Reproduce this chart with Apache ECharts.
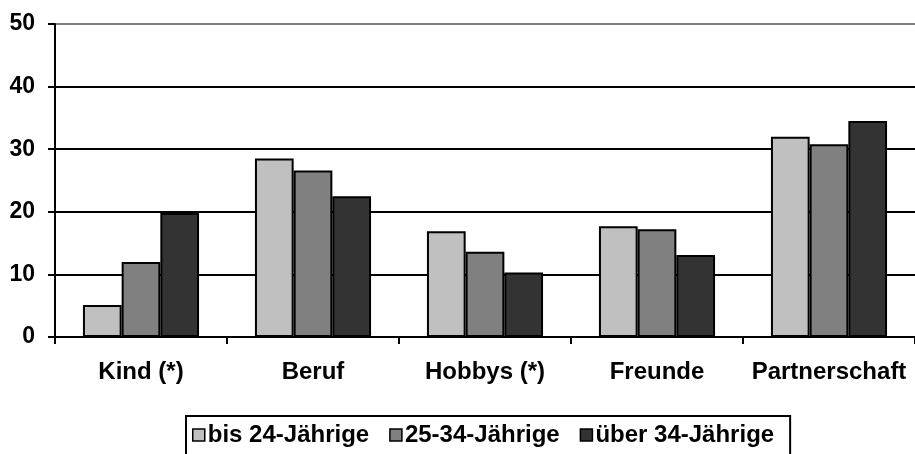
<!DOCTYPE html>
<html>
<head>
<meta charset="utf-8">
<script src="https://cdn.jsdelivr.net/npm/echarts@6/dist/echarts.min.js"></script>
<style>
  html, body { margin: 0; padding: 0; background: #fff; }
  #chart { width: 915px; height: 454px; }
</style>
</head>
<body>
<div id="chart"></div>
<script>
// Kategorien und Werte
var categories = ['Kind (*)', 'Beruf', 'Hobbys (*)', 'Freunde', 'Partnerschaft'];
var seriesNames = ['bis 24-Jährige', '25-34-Jährige', 'über 34-Jährige'];
var bis24 = [5.1, 28.5, 16.9, 17.7, 32.0];
var von25bis34 = [12.0, 26.6, 13.6, 17.2, 30.8];
var ueber34 = [19.8, 22.5, 10.3, 13.1, 34.5];
var colors = ['#c0c0c0', '#808080', '#333333'];

var font = '"Liberation Sans", Arial, sans-serif';

var chart = echarts.init(document.getElementById('chart'));

function makeSeries(name, data, color) {
  return {
    name: name,
    type: 'bar',
    data: data,
    barGap: '0%',
    barCategoryGap: '32.5%',
    itemStyle: { color: color, borderColor: '#000', borderWidth: 2 },
    emphasis: { disabled: true }
  };
}

chart.setOption({
  animation: false,
  textStyle: { fontFamily: font },
  grid: { left: 55, top: 24, width: 867, bottom: 117, containLabel: false },
  legend: {
    data: seriesNames,
    left: 186,
    top: 416,
    orient: 'horizontal',
    padding: [7, 16, 30, 6],
    itemGap: 20,
    itemWidth: 12,
    itemHeight: 12,
    icon: 'rect',
    borderColor: '#000',
    borderWidth: 2,
    itemStyle: { borderColor: '#000', borderWidth: 1.5 },
    textStyle: { fontFamily: font, fontWeight: 'bold', fontSize: 24, color: '#000', padding: [0, 0, 0, -2] }
  },
  xAxis: {
    type: 'category',
    data: categories,
    axisLine: { lineStyle: { color: '#000', width: 2 } },
    axisTick: { show: true, length: 7, lineStyle: { color: '#000', width: 2 } },
    axisLabel: { interval: 0, fontFamily: font, fontWeight: 'bold', fontSize: 24, color: '#000', margin: 23 }
  },
  yAxis: {
    type: 'value',
    min: 0,
    max: 50,
    interval: 10,
    axisLine: { show: true, lineStyle: { color: '#000', width: 2 } },
    axisTick: { show: true, length: 7, lineStyle: { color: '#000', width: 2 } },
    axisLabel: { fontFamily: font, fontWeight: 'bold', fontSize: 23, color: '#000', margin: 20 },
    splitLine: { show: true, lineStyle: { color: ['#000', '#000', '#000', '#000', '#000', '#808080'], width: 2 } }
  },
  series: [
    makeSeries(seriesNames[0], bis24, colors[0]),
    makeSeries(seriesNames[1], von25bis34, colors[1]),
    makeSeries(seriesNames[2], ueber34, colors[2])
  ]
});
</script>
</body>
</html>
